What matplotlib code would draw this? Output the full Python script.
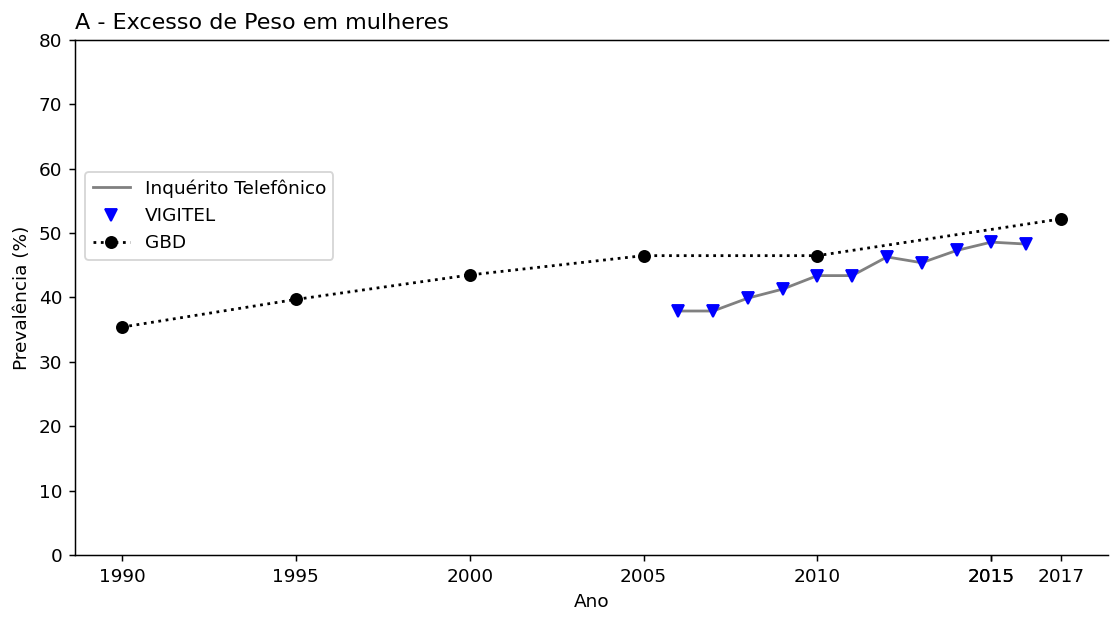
import matplotlib
matplotlib.use("Agg")
import matplotlib.pyplot as plt

# VIGITEL telephone survey
anos_vigitel = [2006, 2007, 2008, 2009, 2010, 2011, 2012, 2013, 2014, 2015, 2016]
prev_vigitel = [37.9, 37.9, 39.9, 41.3, 43.4, 43.4, 46.3, 45.4, 47.3, 48.6, 48.3]

# GBD estimates
anos_gbd = [1990, 1995, 2000, 2005, 2010, 2017]
prev_gbd = [35.4, 39.7, 43.5, 46.5, 46.5, 52.2]

# five-year ticks plus the survey years; 2015 ends up drawn twice
xticks = [1990, 1995, 2000, 2005, 2010, 2015] + [2015, 2017]
yticks = [0, 10, 20, 30, 40, 50, 60, 70, 80]

DPI = 133.33
fig = plt.figure(figsize=(1110 / DPI, 619 / DPI), dpi=DPI)
ax = fig.add_axes([0.0676, 0.1034, 0.9304, 0.832])

ax.plot(anos_vigitel, prev_vigitel, color='gray', linewidth=1.5, label='Inquérito Telefônico')
ax.plot(anos_vigitel, prev_vigitel, 'v', color='blue', linestyle='none', label='VIGITEL')
ax.plot(anos_gbd, prev_gbd, 'o:', color='black', linewidth=1.5, label='GBD')

ax.set_ylim(0, 80)
ax.set_yticks(yticks)
ax.set_xticks(xticks)
ax.set_xticklabels([str(a) for a in xticks])

ax.spines['right'].set_visible(False)

ax.set_xlabel('Ano')
ax.set_ylabel('Prevalência (%)')
ax.set_title('A - Excesso de Peso em mulheres', loc='left')

ax.legend(loc='upper left', bbox_to_anchor=(0.01, 0.744), borderaxespad=0)

fig.savefig('out.png', dpi=DPI)
